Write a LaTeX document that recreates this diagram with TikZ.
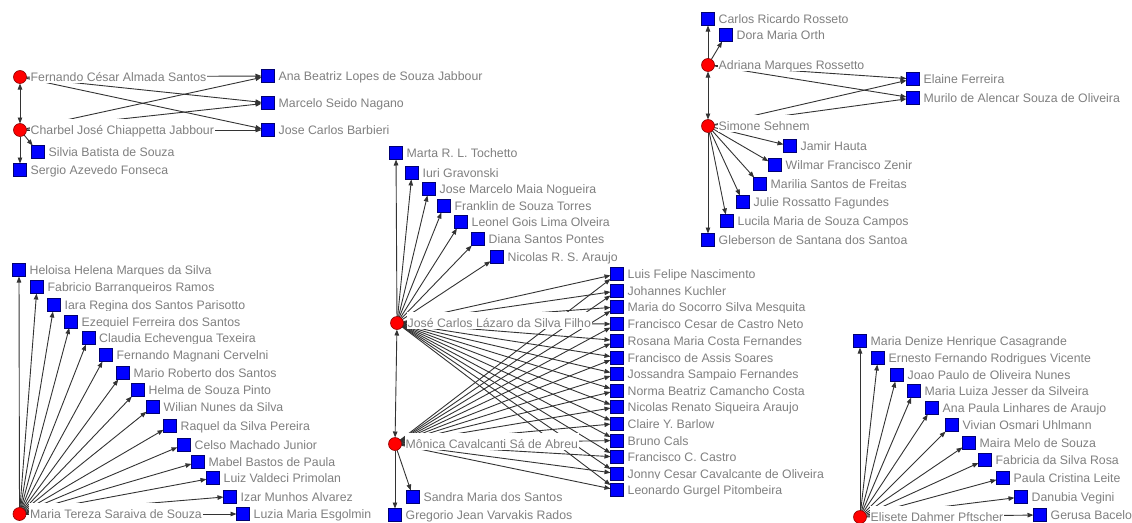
\documentclass[tikz,border=0pt]{standalone}
\usepackage{fontspec}
\setmainfont{Liberation Sans}
\usetikzlibrary{arrows.meta,backgrounds}

\begin{document}
\begin{tikzpicture}[x=1pt,y=-1pt,label distance=3pt,
  person/.style={circle,fill=red,draw=red!55!black,line width=0.6pt,minimum size=13pt,inner sep=0pt,outer sep=0pt},
  work/.style={rectangle,fill=blue,draw=blue!45!black,line width=0.6pt,minimum size=13pt,inner sep=0pt,outer sep=0pt},
  tag/.style={text=black!50,fill=white,font=\fontsize{12.3}{14}\selectfont,inner xsep=1pt,inner ysep=0.5pt,text height=15pt,text depth=0.5pt,yshift=2.75pt},
  link/.style={draw=black!80,line width=0.9pt,-{Triangle[length=6pt,width=4.5pt]}},
  mutual/.style={link,{Triangle[length=6pt,width=4.5pt]}-{Triangle[length=6pt,width=4.5pt]}}]
  \useasboundingbox (0,0) rectangle (1132,522);

  % Top left group
  \node[person,label={[tag]right:Fernando César Almada Santos}] (fernando) at (20,77) {};
  \node[person,label={[tag]right:Charbel José Chiappetta Jabbour}] (charbel) at (20,130) {};
  \node[work,label={[tag]right:Silvia Batista de Souza}] (silvia) at (38,152) {};
  \node[work,label={[tag]right:Sergio Azevedo Fonseca}] (sergio) at (20,170) {};
  \node[work,label={[tag]right:Ana Beatriz Lopes de Souza Jabbour}] (ana) at (268,76) {};
  \node[work,label={[tag]right:Marcelo Seido Nagano}] (marcelo) at (268,103) {};
  \node[work,label={[tag]right:Jose Carlos Barbieri}] (barbieri) at (268,130) {};

  % Top right group
  \node[work,label={[tag]right:Carlos Ricardo Rosseto}] (carlos) at (708,19) {};
  \node[work,label={[tag]right:Dora Maria Orth}] (dora) at (726,35) {};
  \node[person,label={[tag]right:Adriana Marques Rossetto}] (adriana) at (708,65) {};
  \node[work,label={[tag]right:Elaine Ferreira}] (elaine) at (913,79) {};
  \node[work,label={[tag]right:Murilo de Alencar Souza de Oliveira}] (murilo) at (913,98) {};
  \node[person,label={[tag]right:Simone Sehnem}] (simone) at (708,126) {};
  \node[work,label={[tag]right:Jamir Hauta}] (jamir) at (790,146) {};
  \node[work,label={[tag]right:Wilmar Francisco Zenir}] (wilmar) at (775,165) {};
  \node[work,label={[tag]right:Marilia Santos de Freitas}] (marilia) at (760,184) {};
  \node[work,label={[tag]right:Julie Rossatto Fagundes}] (julie) at (743,202) {};
  \node[work,label={[tag]right:Lucila Maria de Souza Campos}] (lucila) at (727,221) {};
  \node[work,label={[tag]right:Gleberson de Santana dos Santoa}] (gleberson) at (708,240) {};

  % Middle group
  \node[work,label={[tag]right:Marta R. L. Tochetto}] (marta) at (396,153) {};
  \node[work,label={[tag]right:Iuri Gravonski}] (iuri) at (412,173) {};
  \node[work,label={[tag]right:Jose Marcelo Maia Nogueira}] (josemarcelo) at (429,189) {};
  \node[work,label={[tag]right:Franklin de Souza Torres}] (franklin) at (444,206) {};
  \node[work,label={[tag]right:Leonel Gois Lima Olveira}] (leonel) at (461,222) {};
  \node[work,label={[tag]right:Diana Santos Pontes}] (diana) at (478,239) {};
  \node[work,label={[tag]right:Nicolas R. S. Araujo}] (nicolasrs) at (497,257) {};
  \node[person,label={[tag]right:José Carlos Lázaro da Silva Filho}] (lazaro) at (397,323) {};
  \node[person,label={[tag]right:Mônica Cavalcanti Sá de Abreu}] (monica) at (395,444) {};
  \node[work,label={[tag]right:Sandra Maria dos Santos}] (sandra) at (413,497) {};
  \node[work,label={[tag]right:Gregorio Jean Varvakis Rados}] (gregorio) at (395,515) {};
  \node[work,label={[tag]right:Luis Felipe Nascimento}] (luis) at (617,274) {};
  \node[work,label={[tag]right:Johannes Kuchler}] (johannes) at (617,291) {};
  \node[work,label={[tag]right:Maria do Socorro Silva Mesquita}] (socorro) at (617,307) {};
  \node[work,label={[tag]right:Francisco Cesar de Castro Neto}] (fcesar) at (617,324) {};
  \node[work,label={[tag]right:Rosana Maria Costa Fernandes}] (rosana) at (617,340.5) {};
  \node[work,label={[tag]right:Francisco de Assis Soares}] (fassis) at (617,357.5) {};
  \node[work,label={[tag]right:Jossandra Sampaio Fernandes}] (jossandra) at (617,374) {};
  \node[work,label={[tag]right:Norma Beatriz Camancho Costa}] (norma) at (617,390.5) {};
  \node[work,label={[tag]right:Nicolas Renato Siqueira Araujo}] (nicolasr) at (617,407) {};
  \node[work,label={[tag]right:Claire Y. Barlow}] (claire) at (617,423.5) {};
  \node[work,label={[tag]right:Bruno Cals}] (bruno) at (617,440.5) {};
  \node[work,label={[tag]right:Francisco C. Castro}] (fcastro) at (617,457) {};
  \node[work,label={[tag]right:Jonny Cesar Cavalcante de Oliveira}] (jonny) at (617,473.5) {};
  \node[work,label={[tag]right:Leonardo Gurgel Pitombeira}] (leonardo) at (617,490) {};

  % Bottom left group
  \node[work,label={[tag]right:Heloisa Helena Marques da Silva}] (heloisa) at (19,270) {};
  \node[work,label={[tag]right:Fabricio Barranqueiros Ramos}] (fabricio) at (37,287) {};
  \node[work,label={[tag]right:Iara Regina dos Santos Parisotto}] (iara) at (54,305) {};
  \node[work,label={[tag]right:Ezequiel Ferreira dos Santos}] (ezequiel) at (71,321.5) {};
  \node[work,label={[tag]right:Claudia Echevengua Texeira}] (claudia) at (88.5,338) {};
  \node[work,label={[tag]right:Fernando Magnani Cervelni}] (magnani) at (106,355) {};
  \node[work,label={[tag]right:Mario Roberto dos Santos}] (mario) at (123,373) {};
  \node[work,label={[tag]right:Helma de Souza Pinto}] (helma) at (138,390) {};
  \node[work,label={[tag]right:Wilian Nunes da Silva}] (wilian) at (153,406.5) {};
  \node[work,label={[tag]right:Raquel da Silva Pereira}] (raquel) at (170,426) {};
  \node[work,label={[tag]right:Celso Machado Junior}] (celso) at (184,444.5) {};
  \node[work,label={[tag]right:Mabel Bastos de Paula}] (mabel) at (198,462) {};
  \node[work,label={[tag]right:Luiz Valdeci Primolan}] (luiz) at (213,478) {};
  \node[work,label={[tag]right:Izar Munhos Alvarez}] (izar) at (230,496.5) {};
  \node[work,label={[tag]right:Luzia Maria Esgolmin}] (luzia) at (243,514) {};
  \node[person,label={[tag]right:Maria Tereza Saraiva de Souza}] (tereza) at (19.5,514) {};

  % Bottom right group
  \node[work,label={[tag]right:Maria Denize Henrique Casagrande}] (denize) at (860,341) {};
  \node[work,label={[tag]right:Ernesto Fernando Rodrigues Vicente}] (ernesto) at (878,358) {};
  \node[work,label={[tag]right:Joao Paulo de Oliveira Nunes}] (joao) at (897,375) {};
  \node[work,label={[tag]right:Maria Luiza Jesser da Silveira}] (mluiza) at (914,391) {};
  \node[work,label={[tag]right:Ana Paula Linhares de Araujo}] (anapaula) at (932,408) {};
  \node[work,label={[tag]right:Vivian Osmari Uhlmann}] (vivian) at (952,425) {};
  \node[work,label={[tag]right:Maira Melo de Souza}] (maira) at (969,443) {};
  \node[work,label={[tag]right:Fabricia da Silva Rosa}] (fabricia) at (985,460) {};
  \node[work,label={[tag]right:Paula Cristina Leite}] (paula) at (1003,478) {};
  \node[work,label={[tag]right:Danubia Vegini}] (danubia) at (1021,497) {};
  \node[work,label={[tag]right:Gerusa Bacelo}] (gerusa) at (1040,515) {};
  \node[person,label={[tag]right:Elisete Dahmer Pftscher}] (elisete) at (860,517) {};

  % Links, behind the names
  \begin{scope}[on background layer]
    \draw[mutual] (fernando) -- (charbel);
    \foreach \w in {ana,marcelo,barbieri} {
      \draw[link] (fernando) -- (\w);
      \draw[link] (charbel) -- (\w);
    }
    \draw[link] (charbel) -- (silvia);
    \draw[link] (charbel) -- (sergio);

    \draw[mutual] (adriana) -- (simone);
    \foreach \w in {carlos,dora,elaine,murilo}
      \draw[link] (adriana) -- (\w);
    \foreach \w in {elaine,murilo,jamir,wilmar,marilia,julie,lucila,gleberson}
      \draw[link] (simone) -- (\w);

    \draw[mutual] (lazaro) -- (monica);
    \foreach \w in {marta,iuri,josemarcelo,franklin,leonel,diana,nicolasrs}
      \draw[link] (lazaro) -- (\w);
    \foreach \w in {luis,johannes,socorro,fcesar,rosana,fassis,jossandra,norma,nicolasr,claire,bruno,fcastro,jonny,leonardo} {
      \draw[link] (lazaro) -- (\w);
      \draw[link] (monica) -- (\w);
    }
    \draw[link] (monica) -- (sandra);
    \draw[link] (monica) -- (gregorio);

    \foreach \w in {heloisa,fabricio,iara,ezequiel,claudia,magnani,mario,helma,wilian,raquel,celso,mabel,luiz,izar,luzia}
      \draw[link] (tereza) -- (\w);

    \foreach \w in {denize,ernesto,joao,mluiza,anapaula,vivian,maira,fabricia,paula,danubia,gerusa}
      \draw[link] (elisete) -- (\w);
  \end{scope}
\end{tikzpicture}
\end{document}
